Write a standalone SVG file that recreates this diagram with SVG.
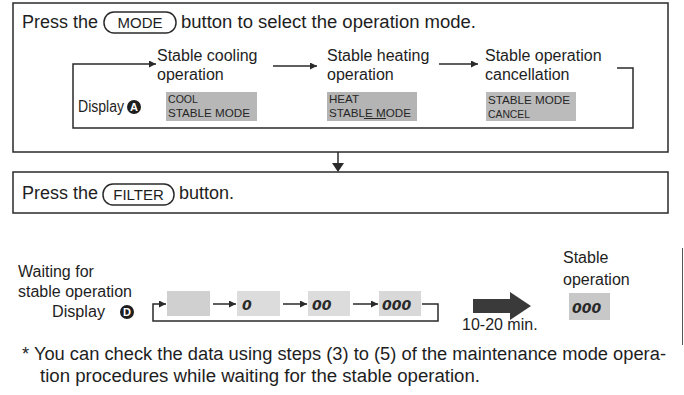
<svg xmlns="http://www.w3.org/2000/svg" width="684" height="395" viewBox="0 0 684 395">
<defs>
<style>
.t{font-family:"Liberation Sans",Arial,sans-serif;fill:#1e1e1e}
.l{font-size:16px}
.h{font-size:18px}
.lcd{font-family:"Liberation Sans",Arial,sans-serif;font-size:11px;fill:#262626}
.dig{font-family:"DejaVu Sans",sans-serif;font-size:14px;font-weight:bold;font-style:italic;fill:#2a2a2a}
.frame{fill:none;stroke:#2a2a2a;stroke-width:1.5}
.ln{fill:none;stroke:#2a2a2a;stroke-width:1.5}
.pill{fill:#fff;stroke:#2a2a2a;stroke-width:1.5}
.badge{font-family:"Liberation Sans",Arial,sans-serif;font-size:11px;font-weight:bold;fill:#fff}
</style>
<marker id="ah" viewBox="0 0 10 10" refX="10" refY="5" markerWidth="8" markerHeight="7" markerUnits="userSpaceOnUse" orient="auto">
<path d="M0,0 L10,5 L0,10 z" fill="#2a2a2a"/>
</marker>
</defs>
<rect width="684" height="395" fill="#fff"/>

<g id="step1">
<rect class="frame" x="13" y="3" width="655" height="149"/>
<text class="t h" x="22" y="28" textLength="76" lengthAdjust="spacingAndGlyphs">Press the</text>
<rect class="pill" x="104" y="12" width="72" height="21" rx="10"/>
<text class="t" x="140" y="28" font-size="15" text-anchor="middle">MODE</text>
<text class="t h" x="181" y="28" textLength="295" lengthAdjust="spacingAndGlyphs">button to select the operation mode.</text>
</g>

<g id="cool">
<text class="t l" x="157" y="61">Stable cooling</text>
<text class="t l" x="157" y="80">operation</text>
<rect x="166" y="92" width="91" height="29" fill="#b7b7b7"/>
<text class="lcd" x="168" y="103" textLength="30" lengthAdjust="spacingAndGlyphs">COOL</text>
<text class="lcd" x="168" y="116.5" textLength="82" lengthAdjust="spacingAndGlyphs">STABLE MODE</text>
</g>

<g id="heat">
<text class="t l" x="327" y="61">Stable heating</text>
<text class="t l" x="327" y="80">operation</text>
<rect x="327" y="92" width="90" height="29" fill="#b4b4b4"/>
<text class="lcd" x="329" y="103" textLength="30" lengthAdjust="spacingAndGlyphs">HEAT</text>
<text class="lcd" x="329" y="116.5" textLength="82" lengthAdjust="spacingAndGlyphs">STABLE MODE</text>
<line x1="364" y1="118.5" x2="386" y2="118.5" stroke="#262626" stroke-width="1"/>
</g>

<g id="cancel">
<text class="t l" x="485" y="61">Stable operation</text>
<text class="t l" x="485" y="80">cancellation</text>
<rect x="486" y="92" width="90" height="29" fill="#bbbbbb"/>
<text class="lcd" x="488" y="104" textLength="82" lengthAdjust="spacingAndGlyphs">STABLE MODE</text>
<text class="lcd" x="488" y="117.5" textLength="42" lengthAdjust="spacingAndGlyphs">CANCEL</text>
</g>

<g id="displayA">
<text class="t l" x="78" y="112" textLength="46" lengthAdjust="spacingAndGlyphs">Display</text>
<circle cx="134" cy="107" r="7" fill="#1e1e1e"/>
<text class="badge" x="134" y="111" text-anchor="middle">A</text>
</g>

<g id="step2">
<rect class="frame" x="13" y="172" width="655" height="41"/>
<text class="t h" x="22" y="199" textLength="76" lengthAdjust="spacingAndGlyphs">Press the</text>
<rect class="pill" x="103" y="184" width="71" height="21" rx="10"/>
<text class="t" x="138.5" y="200" font-size="15" text-anchor="middle">FILTER</text>
<text class="t h" x="179" y="199">button.</text>
</g>

<g id="waiting">
<text class="t l" x="18" y="277">Waiting for</text>
<text class="t l" x="18" y="297" textLength="114" lengthAdjust="spacingAndGlyphs">stable operation</text>
<text class="t l" x="52" y="317" textLength="53" lengthAdjust="spacingAndGlyphs">Display</text>
<circle cx="127" cy="312" r="7" fill="#1e1e1e"/>
<text class="badge" x="127" y="316" text-anchor="middle">D</text>
<rect x="167" y="291" width="43" height="25" fill="#d0d0d0"/>
<rect x="237" y="291" width="43" height="25" fill="#dcdcdc"/>
<text class="dig" x="242" y="310">0</text>
<rect x="308" y="291" width="42" height="25" fill="#dcdcdc"/>
<text class="dig" x="312" y="310">00</text>
<rect x="379" y="291" width="42" height="25" fill="#d8d8d8"/>
<text class="dig" x="382" y="310">000</text>
</g>

<g id="stable">
<text class="t l" x="563" y="263">Stable</text>
<text class="t l" x="563" y="285">operation</text>
<rect x="569" y="293" width="41" height="27" fill="#c8c8c8"/>
<text class="dig" x="572" y="313">000</text>
</g>

<g id="wait-time">
<path d="M473,299 H510 V292 L531,306 L510,320 V313 H473 Z" fill="#3a3a3a"/>
<text class="t l" x="462" y="330">10-20 min.</text>
</g>

<g id="connectors">
<path class="ln" d="M617,68 H633 V128 H73 V64 H156" marker-end="url(#ah)"/>
<path class="ln" d="M273,66 H317" marker-end="url(#ah)"/>
<path class="ln" d="M439,64 H478" marker-end="url(#ah)"/>
<line class="ln" x1="338" y1="152" x2="338" y2="164"/>
<path d="M332,163 L344,163 L338,172 Z" fill="#2a2a2a"/>
<path class="ln" d="M422,304 H438 V321 H153 V304 H166" marker-end="url(#ah)"/>
<path class="ln" d="M213,304 H236" marker-end="url(#ah)"/>
<path class="ln" d="M283,304 H307" marker-end="url(#ah)"/>
<path class="ln" d="M353,304 H378" marker-end="url(#ah)"/>
</g>

<g id="note">
<text class="t h" x="22" y="360" textLength="644" lengthAdjust="spacingAndGlyphs">* You can check the data using steps (3) to (5) of the maintenance mode opera-</text>
<text class="t h" x="40" y="382" textLength="440" lengthAdjust="spacingAndGlyphs">tion procedures while waiting for the stable operation.</text>
</g>
<line x1="682.5" y1="248" x2="682.5" y2="345" stroke="#555" stroke-width="1"/>
</svg>
